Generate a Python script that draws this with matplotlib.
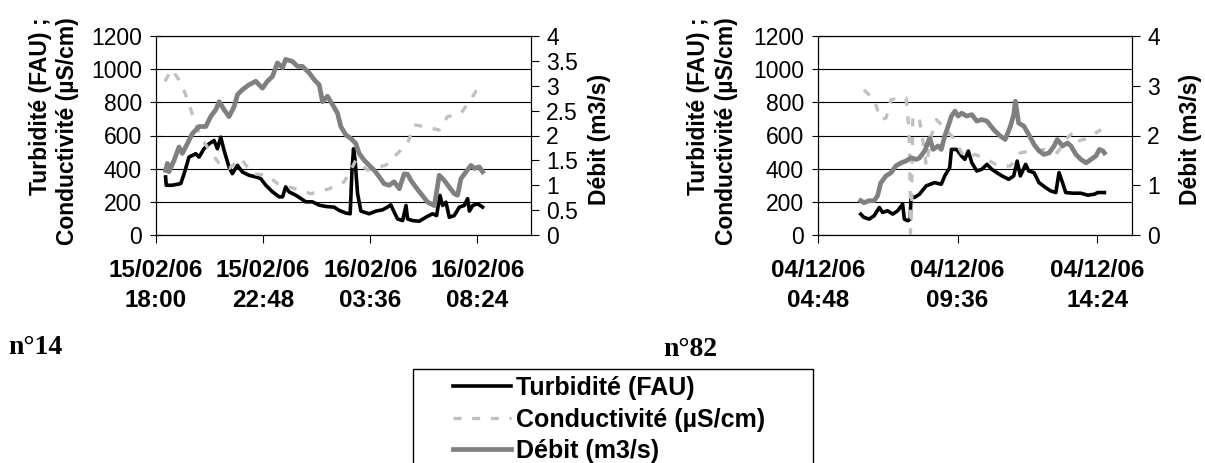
import matplotlib
matplotlib.use("Agg")
import numpy as np
import pandas as pd
import matplotlib.pyplot as plt
import matplotlib.dates as mdates
from matplotlib.ticker import FuncFormatter
from matplotlib.patches import Rectangle

plt.rcParams['font.family'] = ['Liberation Sans', 'DejaVu Sans']

series_names = ['Turbidité (FAU)', 'Conductivité (µS/cm)', 'Débit (m3/s)']

# event n°14 : times in hours after 15/02/06 18:00
t14_turb = [0.43, 0.46, 0.73, 1.11, 1.26, 1.48, 1.78, 1.93, 2.15, 2.38, 2.60, 2.75, 2.90, 3.05,
            3.27, 3.42, 3.65, 3.87, 4.17, 4.47, 4.69, 4.92, 5.22, 5.52, 5.67, 5.81, 5.96, 6.26,
            6.49, 6.71, 7.01, 7.31, 7.61, 7.98, 8.21, 8.51, 8.70, 8.78, 8.85, 8.92, 9.03, 9.18,
            9.55, 9.85, 10.15, 10.37, 10.52, 10.67, 10.82, 11.05, 11.20, 11.27, 11.49, 11.79,
            12.09, 12.39, 12.57, 12.72, 12.84, 12.99, 13.14, 13.36, 13.59, 13.81, 13.96, 14.04,
            14.19, 14.41, 14.63]
turb14 = [350, 300, 300, 310, 370, 470, 490, 470, 520, 550, 570, 520, 590, 510,
          410, 370, 420, 380, 360, 350, 340, 300, 260, 230, 230, 290, 260, 240,
          220, 200, 200, 180, 172, 168, 148, 132, 128, 390, 520, 450, 250, 144,
          128, 144, 152, 168, 182, 138, 97, 87, 178, 97, 87, 83,
          107, 128, 117, 239, 178, 198, 107, 117, 168, 178, 219, 144,
          178, 188, 168]

t14_cond = [0.40, 0.70, 1.11, 1.45, 1.75, 2.08, 2.45, 2.83, 3.27, 3.80, 4.32, 4.99, 5.44, 5.96,
            6.94, 7.76, 8.43, 8.80, 8.95, 9.48, 10.30, 10.82, 11.27, 11.57, 12.02, 12.69, 13.06,
            13.66, 14.04, 14.33, 14.63]
cond14 = [927, 998, 921, 805, 674, 573, 502, 431, 401, 461, 370, 360, 310, 290,
          249, 279, 320, 411, 451, 391, 421, 492, 552, 664, 654, 633, 714,
          734, 805, 866, 866]

t14_deb = [0.43, 0.51, 0.58, 0.81, 1.03, 1.18, 1.41, 1.63, 1.93, 2.23, 2.45, 2.68, 2.83, 3.05,
           3.27, 3.50, 3.65, 3.87, 4.17, 4.47, 4.77, 4.99, 5.22, 5.44, 5.67, 5.81, 6.11, 6.34,
           6.56, 6.86, 7.09, 7.31, 7.46, 7.68, 7.91, 8.13, 8.28, 8.51, 8.73, 8.95, 9.10, 9.33,
           9.55, 9.78, 10.00, 10.22, 10.45, 10.67, 10.90, 11.12, 11.27, 11.42, 11.64, 11.87,
           12.17, 12.47, 12.69, 12.91, 13.14, 13.36, 13.51, 13.66, 13.89, 14.11, 14.26, 14.48,
           14.63]
deb14 = [1.30, 1.44, 1.27, 1.50, 1.77, 1.64, 1.84, 2.04, 2.18, 2.18, 2.38, 2.52, 2.68, 2.52,
         2.38, 2.58, 2.82, 2.92, 3.02, 3.09, 2.95, 3.09, 3.19, 3.46, 3.36, 3.53, 3.49, 3.39,
         3.39, 3.26, 3.12, 3.02, 2.68, 2.79, 2.62, 2.45, 2.18, 2.01, 1.94, 1.84, 1.64, 1.50,
         1.40, 1.30, 1.17, 1.03, 1.00, 1.07, 0.93, 1.23, 1.22, 1.10, 0.96, 0.83,
         0.66, 0.59, 1.20, 1.10, 0.96, 0.83, 0.80, 1.13, 1.27, 1.40, 1.34, 1.37,
         1.27]

# event n°82 : times in hours after 04/12/06 04:48
t82_turb = [1.47, 1.58, 1.76, 1.93, 2.11, 2.22, 2.39, 2.57, 2.74, 2.91, 2.97, 3.09, 3.17, 3.20,
            3.32, 3.49, 3.72, 4.01, 4.24, 4.36, 4.53, 4.59, 4.77, 4.94, 5.05, 5.17, 5.29, 5.46,
            5.63, 5.81, 5.98, 6.15, 6.33, 6.56, 6.73, 6.85, 6.96, 7.14, 7.25, 7.43, 7.60, 7.83,
            8.00, 8.18, 8.29, 8.41, 8.52, 8.76, 9.04, 9.28, 9.51, 9.62, 9.85]
turb82 = [126, 106, 96, 116, 166, 136, 146, 126, 146, 186, 96, 86, 96, 236,
          226, 246, 296, 316, 306, 356, 406, 516, 516, 476, 456, 506, 436, 386,
          396, 426, 396, 376, 356, 336, 356, 446, 356, 426, 386, 376, 316, 286,
          266, 256, 376, 316, 256, 252, 252, 240, 246, 256, 256]

t82_cond = [1.58, 1.93, 2.16, 2.34, 2.51, 2.80, 3.03, 3.12, 3.15, 3.17, 3.18, 3.22, 3.26, 3.49,
            3.67, 3.72, 3.90, 4.07, 4.30, 4.65, 4.94, 5.17, 5.40, 5.81, 6.21, 6.62, 6.96, 7.31,
            7.77, 8.23, 8.58, 8.76, 8.94, 9.33, 9.56, 9.74]
cond82 = [876, 816, 696, 706, 816, 826, 826, 656, 500, 250, 10, 150, 720, 696,
          496, 416, 600, 696, 656, 586, 496, 466, 486, 456, 416, 416, 496, 506,
          516, 496, 586, 616, 566, 586, 616, 636]

t82_deb = [1.47, 1.58, 1.76, 1.93, 2.05, 2.16, 2.34, 2.51, 2.68, 2.86, 3.03, 3.20, 3.38, 3.49,
           3.67, 3.84, 3.96, 4.13, 4.24, 4.36, 4.48, 4.59, 4.71, 4.82, 4.94, 5.11, 5.29, 5.46,
           5.63, 5.81, 6.04, 6.27, 6.44, 6.62, 6.73, 6.79, 6.90, 7.08, 7.25, 7.43, 7.60, 7.77,
           7.95, 8.12, 8.23, 8.41, 8.58, 8.70, 8.87, 9.04, 9.22, 9.39, 9.56, 9.68, 9.80, 9.85]
deb82 = [0.69, 0.65, 0.69, 0.69, 0.79, 1.05, 1.19, 1.25, 1.39, 1.45, 1.49, 1.55, 1.52, 1.55,
         1.69, 1.95, 1.72, 1.79, 1.72, 1.99, 2.19, 2.39, 2.49, 2.39, 2.45, 2.39, 2.42, 2.29,
         2.32, 2.29, 2.12, 1.99, 1.92, 2.19, 2.42, 2.69, 2.25, 2.19, 2.02, 1.82, 1.69, 1.62,
         1.65, 1.79, 1.92, 1.79, 1.85, 1.79, 1.62, 1.52, 1.45, 1.52, 1.59, 1.72, 1.69, 1.65]

FS = 16.5


def draw(ax, start, span_h, n_ticks, deb_step,
         t_turb, turb, t_cond, cond, t_deb, deb, ylab_x, rlab_x):
    start = pd.Timestamp(start)

    def to_dt(h):
        return start + pd.to_timedelta(np.asarray(h), unit='h')

    l1, = ax.plot(to_dt(t_turb), turb, color='black', lw=2.6)
    l2, = ax.plot(to_dt(t_cond), cond, color='#c0c0c0', lw=2.4, dashes=(2.4, 3.2))
    ax2 = ax.twinx()
    l3, = ax2.plot(to_dt(t_deb), deb, color='#808080', lw=3.4)

    ax.set_ylim(0, 1200)
    ax.set_yticks(range(0, 1201, 200))
    ax2.set_ylim(0, 4)
    ax2.set_yticks(np.arange(0, 4.001, deb_step))
    ax2.yaxis.set_major_formatter(FuncFormatter(lambda v, p: '{:g}'.format(v)))

    ax.set_xticks(pd.date_range(start, periods=n_ticks, freq='288min'))
    ax.xaxis.set_major_formatter(mdates.DateFormatter('%d/%m/%y\n%H:%M'))
    ax.set_xlim(start, start + pd.Timedelta(hours=span_h))

    ax.yaxis.grid(True, color='black', lw=0.8)
    for a in (ax, ax2):
        for s in a.spines.values():
            s.set_linewidth(0.8)
    ax.tick_params(axis='y', direction='inout', length=8, labelsize=FS, pad=6)
    ax.tick_params(axis='x', direction='out', length=6, pad=11)
    ax2.tick_params(axis='y', direction='out', length=6, labelsize=FS, pad=5)
    for lab in ax.get_xticklabels():
        lab.set_fontsize(17.5)
        lab.set_fontweight('bold')
        lab.set_linespacing(1.4)

    ax.set_ylabel('Turbidité (FAU) ;\nConductivité (µS/cm)', fontsize=FS,
                  fontweight='bold', multialignment='right', linespacing=1.25)
    ax.yaxis.set_label_coords(ylab_x, 0.52)
    ax2.set_ylabel('Débit (m3/s)', fontsize=FS, fontweight='bold')
    ax2.yaxis.set_label_coords(rlab_x, 0.48)
    return [l1, l2, l3]


fig = plt.figure(figsize=(12.05, 4.63), dpi=100)
W, H = 1205.0, 463.0
ax_a = fig.add_axes([156 / W, 1 - 235 / H, 375 / W, 199 / H])
ax_b = fig.add_axes([818 / W, 1 - 235 / H, 314 / W, 199 / H])

handles = draw(ax_a, '2006-02-15 18:00', 16.8, 4, 0.5,
               t14_turb, turb14, t14_cond, cond14, t14_deb, deb14, -0.205, 1.152)
draw(ax_b, '2006-12-04 04:48', 10.8, 3, 1,
     t82_turb, turb82, t82_cond, cond82, t82_deb, deb82, -0.255, 1.15)

fig.text(8 / W, 1 - 347 / H, 'n°14', family='Liberation Serif', fontweight='bold',
         fontsize=20, ha='left', va='center')
fig.text(663 / W, 1 - 349 / H, 'n°82', family='Liberation Serif', fontweight='bold',
         fontsize=20, ha='left', va='center')

# legend box (bottom is cut by the figure edge)
fig.add_artist(Rectangle((413 / W, -0.05), 400 / W, 0.05 + 1 - 369 / H,
                         transform=fig.transFigure, fill=False, edgecolor='black',
                         lw=1, clip_on=False))
fig.legend(handles, series_names, loc='upper left', bbox_to_anchor=(453 / W, 1 - 376 / H),
           frameon=False, borderpad=0, borderaxespad=0, handlelength=2.3,
           handletextpad=0.2, labelspacing=0.3,
           prop={'weight': 'bold', 'size': 18})

fig.savefig('out.png', dpi=100)
